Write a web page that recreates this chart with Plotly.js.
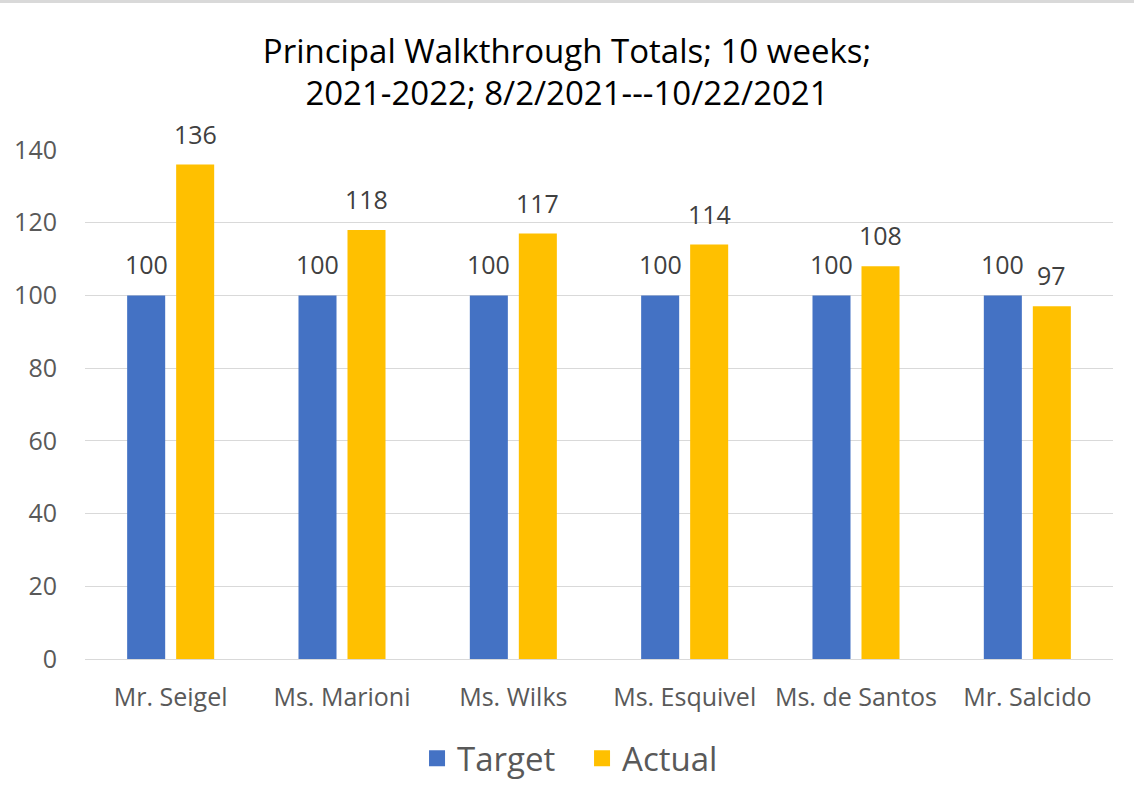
<!DOCTYPE html>
<html><head><meta charset="utf-8">
<script src="https://cdn.plot.ly/plotly-3.0.1.min.js"></script>
<style>html,body{margin:0;padding:0;background:#fff}</style>
</head><body>
<div id="chart" style="width:1134px;height:802px"></div>
<script>
const categories = ["Mr. Seigel", "Ms. Marioni", "Ms. Wilks", "Ms. Esquivel", "Ms. de Santos", "Mr. Salcido"];
const targetValues = [100, 100, 100, 100, 100, 100];
const actualValues = [136, 118, 117, 114, 108, 97];
const yTicks = [0, 20, 40, 60, 80, 100, 120, 140];

const font = "'Open Sans', sans-serif";
const blue = "#4472C4", gold = "#FFC000";
const traces = [
  {type:"bar", name:"Target", x:categories, y:targetValues, marker:{color:blue}, showlegend:false},
  {type:"bar", name:"Actual", x:categories, y:actualValues, marker:{color:gold}, showlegend:false},
  {type:"scatter", mode:"markers", name:"Target", x:[null], y:[null], marker:{symbol:"square", size:20, color:blue}},
  {type:"scatter", mode:"markers", name:"Actual", x:[null], y:[null], marker:{symbol:"square", size:20, color:gold}}
];
const labelFont = {family:font, size:25, color:"#404040"};
const annotations = [];
categories.forEach((c, i) => {
  annotations.push({x:c, y:targetValues[i], xref:"x", yref:"y", text:String(targetValues[i]), showarrow:false,
    xshift:-24.5, yshift:31, yanchor:"middle", font:labelFont});
  annotations.push({x:c, y:actualValues[i], xref:"x", yref:"y", text:String(actualValues[i]), showarrow:false,
    xshift:24.5, yshift:31, yanchor:"middle", font:labelFont});
});
const layout = {
  width:1134, height:802,
  margin:{l:85, r:21, t:150, b:143},
  paper_bgcolor:"#fff", plot_bgcolor:"#fff",
  barmode:"group", bargap:0.428, bargroupgap:0.224,
  title:{text:"Principal Walkthrough Totals; 10 weeks;<br>2021-2022; 8/2/2021---10/22/2021",
    font:{family:font, size:33, color:"#000"}, x:0.5, xanchor:"center", y:0.922, yanchor:"middle"},
  xaxis:{tickfont:{family:font, size:25, color:"#595959"}, showline:true, linecolor:"#d9d9d9", linewidth:1,
    ticks:"", showgrid:false, ticklabelstandoff:16},
  yaxis:{range:[0,140], tickvals:yTicks, ticktext:yTicks.map(String), showgrid:true, gridcolor:"#d9d9d9", gridwidth:1,
    zeroline:false, tickfont:{family:font, size:25, color:"#595959"}, ticks:"", ticklabelstandoff:27},
  legend:{orientation:"h", x:0.4835, xanchor:"center", y:-0.195, yanchor:"middle",
    font:{family:font, size:33, color:"#595959"}, itemwidth:30, entrywidth:120, entrywidthmode:"pixels"},
  annotations:annotations,
  shapes:[{type:"rect", xref:"paper", yref:"paper", x0:-85/1028, x1:1+21/1028, y0:1+147/509, y1:1+150/509, fillcolor:"#d9d9d9", line:{width:0}}]
};
Plotly.newPlot("chart", traces, layout, {displayModeBar:false, staticPlot:true});
</script>
</body></html>
